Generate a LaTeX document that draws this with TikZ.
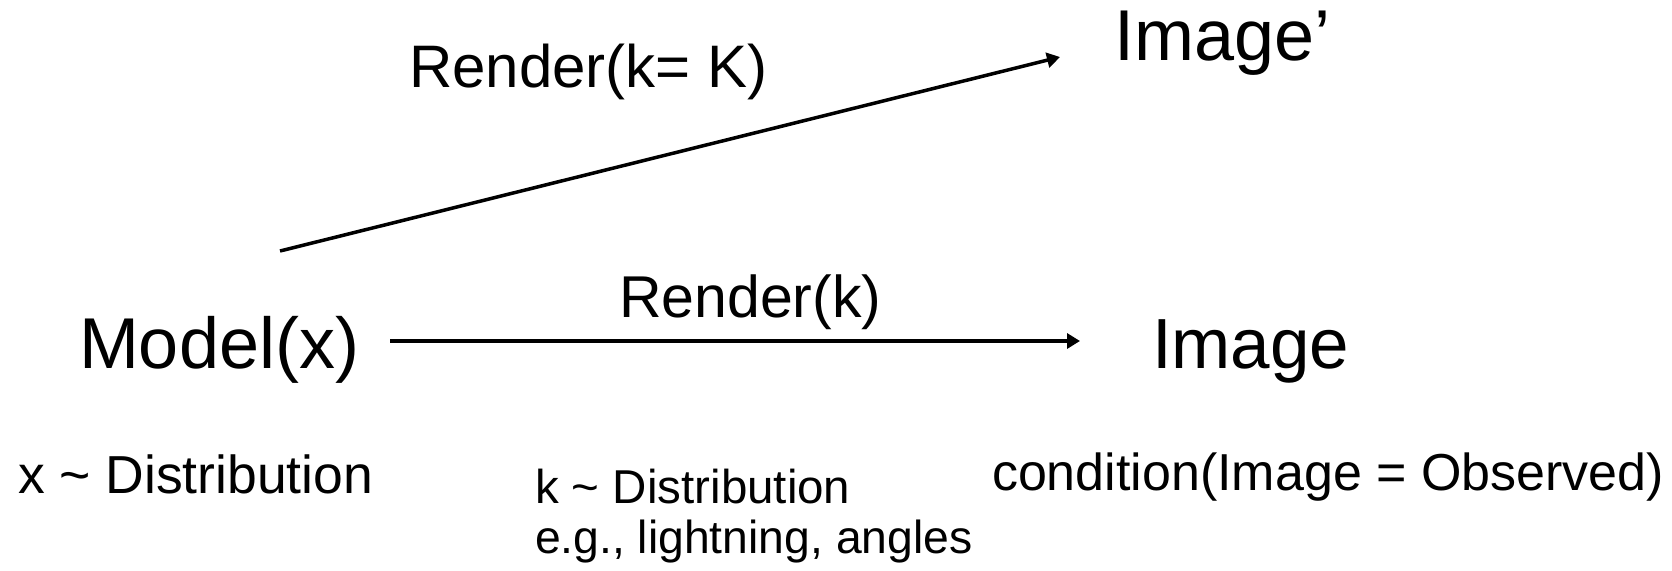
\documentclass[tikz,border=0pt]{standalone}
\usepackage{fontspec}
\setmainfont{Liberation Sans}
\usetikzlibrary{arrows.meta}
\tikzset{
  lbl/.style={anchor=base west, inner sep=0pt, outer sep=0pt, text=black},
  conn/.style={line width=3.5pt, -{Triangle[length=13pt,width=15pt]}},
}
\newcommand{\fsz}[1]{\fontsize{#1}{#1}\selectfont}
\begin{document}
\begin{tikzpicture}[x=1pt,y=-1pt]
\useasboundingbox (0,0) rectangle (1672,570);
\node[lbl] (model) at (79,368) {\fsz{72}Model(x)};
\node[lbl] (image) at (1152,368) {\fsz{71}Image};
\node[lbl] (imagep) at (1114,60) {\fsz{72}Image’};
\node[lbl] (renderK) at (409,87) {\fsz{60}Render(k= K)};
\node[lbl] (renderk) at (619,317) {\fsz{59}Render(k)};
\node[lbl] (xdist) at (18,493) {\fsz{53.5}x \textasciitilde{} Distribution};
\node[lbl] (kdist) at (535,503) {\fsz{47.5}k \textasciitilde{} Distribution};
\node[lbl] (eg) at (535,553) {\fsz{46.3}e.g., lightning, angles};
\node[lbl] (cond) at (992,490) {\fsz{52}condition(Image = Observed)};
\coordinate (hs) at (390,341);
\coordinate (he) at (1080,341);
\coordinate (ds) at (280,251);
\coordinate (de) at (1060,57);
\draw[conn] (hs) -- (he);
\draw[conn] (ds) -- (de);
\end{tikzpicture}
\end{document}
